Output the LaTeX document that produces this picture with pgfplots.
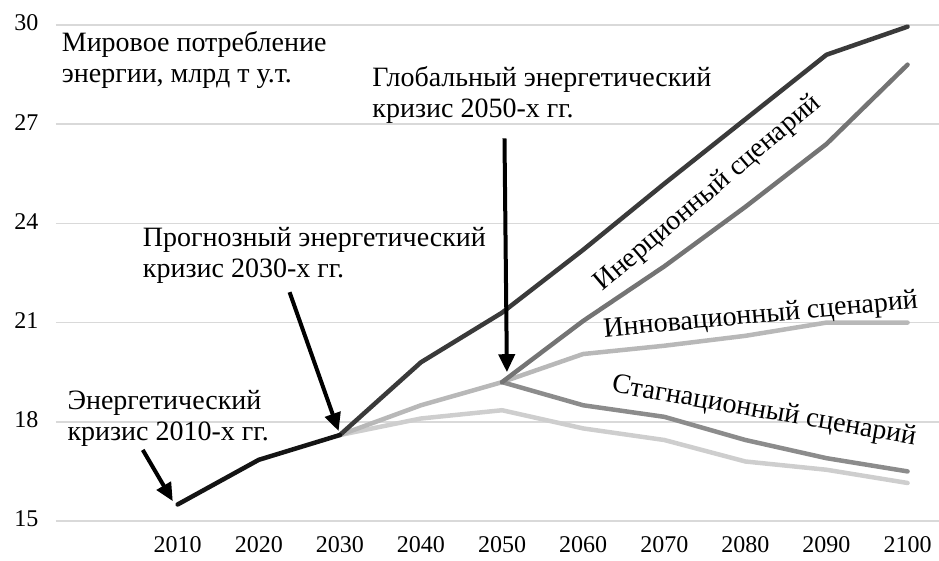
\documentclass[border=0pt]{standalone}
\usepackage{fontspec}
\setmainfont{Liberation Serif}
\usepackage{pgfplots}
\pgfplotsset{compat=1.18}
\usetikzlibrary{arrows.meta}
\definecolor{cBlack}{HTML}{141414}
\definecolor{cInert}{HTML}{3A3A3A}
\definecolor{cInert2}{HTML}{747474}
\definecolor{cStag}{HTML}{8C8C8C}
\definecolor{cInnov}{HTML}{B8B8B8}
\definecolor{cLow}{HTML}{CECECE}
\begin{document}
\begin{tikzpicture}
\begin{axis}[
  scale only axis, width=884pt, height=496pt,
  xmin=1995, xmax=2104, ymin=15, ymax=30,
  xtick={2010,2020,...,2100}, ytick={15,18,...,30},
  /pgf/number format/assume math mode=true,
  /pgf/number format/1000 sep={},
  xticklabel style={font=\fontsize{24}{28}\selectfont, yshift=-12pt},
  yticklabel style={font=\fontsize{24}{28}\selectfont, xshift=-14pt, yshift=2pt},
  ymajorgrids, grid style={draw=black!15, line width=1.5pt},
  axis line style={draw=none},
  major tick length=0pt,
  clip=false,
  every axis plot/.append style={line width=4.5pt, line join=round, line cap=round},
]
% lowest light line
\addplot[cLow] coordinates {(2030,17.6) (2040,18.1) (2050,18.35) (2060,17.8) (2070,17.45) (2080,16.8) (2090,16.55) (2100,16.15)};
% innovation
\addplot[cInnov] coordinates {(2030,17.6) (2040,18.5) (2050,19.2) (2060,20.05) (2070,20.3) (2080,20.6) (2090,21.0) (2100,21.0)};
% stagnation
\addplot[cStag] coordinates {(2050,19.2) (2060,18.5) (2070,18.15) (2080,17.45) (2090,16.9) (2100,16.5)};
% inertial lower
\addplot[cInert2] coordinates {(2050,19.2) (2060,21.05) (2070,22.7) (2080,24.5) (2090,26.4) (2100,28.8)};
% inertial
\addplot[cInert] coordinates {(2030,17.6) (2040,19.8) (2050,21.3) (2060,23.2) (2070,25.2) (2080,27.15) (2090,29.1) (2100,29.95)};
% history
\addplot[cBlack] coordinates {(2010,15.5) (2020,16.85) (2030,17.6)};

\begin{scope}[font=\fontsize{28}{31}\selectfont]
\node[anchor=north west, align=left, inner sep=0pt] at (axis cs:1995.7,29.82) {Мировое потребление\\энергии, млрд т у.т.};
\node[anchor=north west, align=left, inner sep=0pt] at (axis cs:2034.0,28.75) {Глобальный энергетический\\кризис 2050-х гг.};
\node[anchor=north west, align=left, inner sep=0pt] at (axis cs:2005.7,23.89) {Прогнозный энергетический\\кризис 2030-х гг.};
\node[anchor=north west, align=left, inner sep=0pt] at (axis cs:1996.4,18.96) {Энергетический\\кризис 2010-х гг.};
\node[rotate=40.4, inner sep=0pt] at (axis cs:2075.4,24.9) {Инерционный сценарий};
\node[rotate=5.3, inner sep=0pt] at (axis cs:2081.9,21.2) {Инновационный сценарий};
\node[rotate=-9.9, inner sep=0pt] at (axis cs:2082.3,18.3) {Стагнационный сценарий};
\end{scope}

\begin{scope}[line width=4pt, -{Triangle[length=18pt,width=16pt]}]
\draw (axis cs:2005.7,17.15) -- (axis cs:2009.4,15.6);
\draw (axis cs:2023.8,21.92) -- (axis cs:2029.85,17.72);
\draw (axis cs:2050.3,26.57) -- (axis cs:2050.6,19.5);
\end{scope}
\end{axis}
\pgfresetboundingbox
\path[use as bounding box] (-56pt,-39pt) rectangle (883pt,521pt);
\end{tikzpicture}
\end{document}
